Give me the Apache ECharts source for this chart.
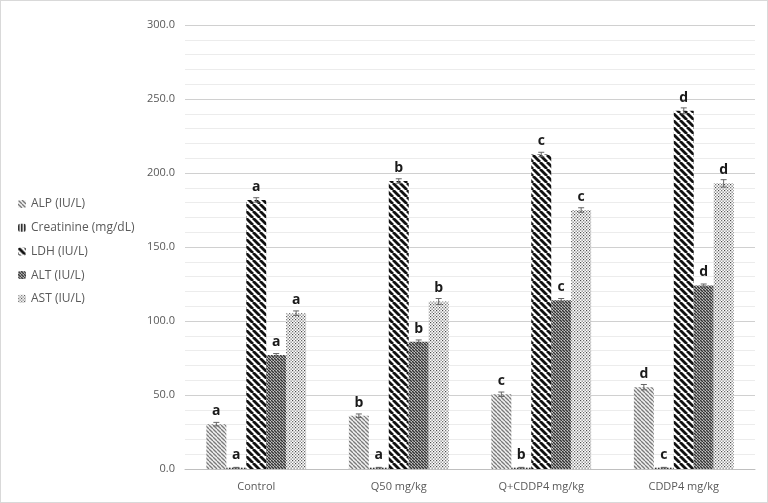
<!DOCTYPE html>
<html><head><meta charset="utf-8">
<script src="https://cdn.jsdelivr.net/npm/echarts@6/dist/echarts.min.js"></script>
<style>
html,body{margin:0;padding:0;background:#fff;}
#c{width:766px;height:501px;border:1px solid #d9d9d9;}
</style></head>
<body><div id="c"></div>
<script>
const categories = ['Control', 'Q50 mg/kg', 'Q+CDDP4 mg/kg', 'CDDP4 mg/kg'];
const seriesNames = ['ALP (IU/L)', 'Creatinine (mg/dL)', 'LDH (IU/L)', 'ALT (IU/L)', 'AST (IU/L)'];
const alp = [30.3, 36.0, 50.5, 55.3];
const creatinine = [0.9, 0.9, 0.9, 0.9];
const ldh = [181.8, 194.6, 212.5, 242.0];
const alt = [77.0, 86.0, 114.0, 124.0];
const ast = [105.3, 113.2, 175.0, 193.0];
const alpErr = [1.2, 1.2, 1.5, 1.8];
const creatinineErr = [0.2, 0.2, 0.2, 0.2];
const ldhErr = [1.5, 1.5, 1.5, 2.0];
const altErr = [1.0, 1.2, 1.2, 1.0];
const astErr = [1.5, 2.0, 1.5, 2.5];
const alpLetters = ['a', 'b', 'c', 'd'];
const creatinineLetters = ['a', 'a', 'b', 'c'];
const ldhLetters = ['a', 'b', 'c', 'd'];
const altLetters = ['a', 'b', 'c', 'd'];
const astLetters = ['a', 'b', 'c', 'd'];
const yTicks = [0, 50, 100, 150, 200, 250, 300];

function stripe(size, lw, color, bg) {
  const c = document.createElement('canvas');
  c.width = size; c.height = size;
  const g = c.getContext('2d');
  g.fillStyle = bg; g.fillRect(0, 0, size, size);
  g.strokeStyle = color; g.lineWidth = lw;
  for (const x0 of [-size, 0, size]) {
    g.beginPath(); g.moveTo(x0, 0); g.lineTo(x0 + size, size); g.stroke();
  }
  return c;
}
function dots() {
  const c = document.createElement('canvas');
  c.width = 6; c.height = 6;
  const g = c.getContext('2d');
  g.fillStyle = '#fff'; g.fillRect(0, 0, 6, 6);
  g.fillStyle = '#777';
  [[0,0],[3,0],[1.5,1.5],[0,3],[3,3],[4.5,4.5],[1.5,4.5],[4.5,1.5]].forEach(p => g.fillRect(p[0], p[1], 1.3, 1.3));
  g.fillStyle = '#444';
  g.fillRect(0, 0, 1, 1); g.fillRect(3, 3, 1, 1);
  return c;
}
function vlines() {
  const c = document.createElement('canvas');
  c.width = 3; c.height = 3;
  const g = c.getContext('2d');
  g.fillStyle = '#ddd'; g.fillRect(0, 0, 3, 3);
  g.fillStyle = '#333'; g.fillRect(0, 0, 1.5, 3);
  return c;
}
const patterns = [
  {image: stripe(4, 1.3, '#7a7a7a', '#f2f2f2'), repeat: 'repeat'},
  {image: vlines(), repeat: 'repeat'},
  {image: stripe(7, 2.8, '#111', '#fff'), repeat: 'repeat'},
  {image: stripe(3.5, 1.4, '#333', '#c8c8c8'), repeat: 'repeat'},
  {image: dots(), repeat: 'repeat'}
];
const values = [alp, creatinine, ldh, alt, ast];
const errs = [alpErr, creatinineErr, ldhErr, altErr, astErr];
const letters = [alpLetters, creatinineLetters, ldhLetters, altLetters, astLetters];
const CAT_GAP = 0.3;

const series = [];
values.forEach((vals, i) => {
  series.push({
    name: seriesNames[i], type: 'bar', data: vals,
    barGap: '0%', barCategoryGap: '30%',
    itemStyle: {color: patterns[i]},
    label: {show: true, position: 'top', distance: 6,
      formatter: p => letters[i][p.dataIndex],
      fontFamily: 'Open Sans', fontWeight: 'bold', fontSize: 14, color: '#1a1a1a'}
  });
});
values.forEach((vals, i) => {
  series.push({
    type: 'custom', silent: true, z: 5,
    data: vals.map((v, k) => [k, v, errs[i][k]]),
    renderItem: function (params, api) {
      const band = api.size([1, 0])[0];
      const bw = band * (1 - CAT_GAP) / 5;
      const off = -band * (1 - CAT_GAP) / 2 + bw * (i + 0.5);
      const top = api.coord([api.value(0), api.value(1) + api.value(2)]);
      const bot = api.coord([api.value(0), api.value(1) - api.value(2)]);
      const x = top[0] + off;
      const s = {stroke: '#666', lineWidth: 1};
      return {type: 'group', children: [
        {type: 'line', shape: {x1: x, y1: top[1], x2: x, y2: bot[1]}, style: s},
        {type: 'line', shape: {x1: x - 3, y1: top[1], x2: x + 3, y2: top[1]}, style: s},
        {type: 'line', shape: {x1: x - 3, y1: bot[1], x2: x + 3, y2: bot[1]}, style: s}
      ]};
    }
  });
});

const chart = echarts.init(document.getElementById('c'));
chart.setOption({
  animation: false,
  textStyle: {fontFamily: 'Open Sans'},
  grid: {left: 184, right: 12, top: 24, bottom: 33},
  legend: {
    orient: 'vertical', left: 12, top: 190, itemGap: 7.7,
    itemWidth: 8, itemHeight: 8,
    data: seriesNames,
    textStyle: {fontFamily: 'Open Sans', fontSize: 12, lineHeight: 16, color: '#595959'}
  },
  xAxis: {
    type: 'category', data: categories,
    axisLine: {lineStyle: {color: '#bfbfbf'}},
    axisTick: {show: false},
    axisLabel: {fontFamily: 'Open Sans', fontSize: 11, color: '#595959', margin: 12}
  },
  yAxis: {
    type: 'value', min: 0, max: 300, interval: 50,
    axisLine: {show: false}, axisTick: {show: false},
    axisLabel: {formatter: v => v.toFixed(1), fontFamily: 'Open Sans', fontSize: 11, color: '#595959', margin: 10},
    splitLine: {lineStyle: {color: '#d0d0d0'}},
    minorTick: {show: false, splitNumber: 5},
    minorSplitLine: {show: true, lineStyle: {color: '#ececec'}}
  },
  series: series
});
</script></body></html>
